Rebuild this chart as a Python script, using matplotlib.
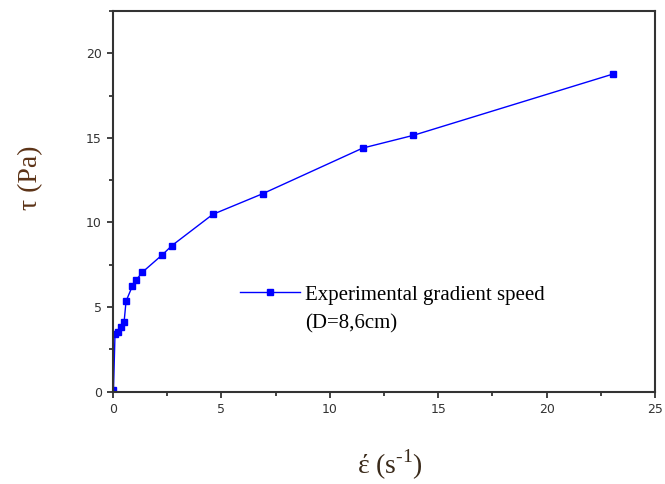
import matplotlib
matplotlib.use("Agg")
import matplotlib.pyplot as plt
from matplotlib.lines import Line2D
from matplotlib.ticker import MultipleLocator

# strain rate (s^-1) vs shear stress (Pa)
rate = [0.02, 0.09, 0.25, 0.35, 0.51, 0.60, 0.89, 1.06, 1.35, 2.28, 2.72,
        4.60, 6.90, 11.52, 13.85, 23.08]
stress = [0.1, 3.39, 3.54, 3.84, 4.13, 5.35, 6.24, 6.59, 7.06, 8.10, 8.64,
          10.48, 11.70, 14.40, 15.15, 18.78]
x_ticks = [0, 5, 10, 15, 20, 25]
y_ticks = [0, 5, 10, 15, 20]

plt.rcParams["mathtext.fontset"] = "custom"
plt.rcParams["mathtext.rm"] = "Liberation Serif"

fig = plt.figure(figsize=(6.65, 4.84), dpi=100, facecolor="white")
ax = fig.add_axes([0.170, 0.1907, 0.815, 0.7866])

ax.plot(rate, stress, color="#0000ff", lw=1.0, marker="s", ms=4.5,
        mec="#0000ff", mfc="#0000ff", label="Experimental gradient speed")

ax.set_xlim(0, 25)
ax.set_ylim(0, 22.5)
ax.set_xticks(x_ticks)
ax.set_yticks(y_ticks)
ax.xaxis.set_minor_locator(MultipleLocator(2.5))
ax.yaxis.set_minor_locator(MultipleLocator(2.5))
ax.tick_params(which="major", direction="out", length=4, width=1.2,
               color="#222222", labelsize=9, labelcolor="#333333", pad=4)
ax.tick_params(which="minor", direction="out", length=3, width=1.2, color="#222222")
for s in ax.spines.values():
    s.set_linewidth(1.5)
    s.set_color("#333333")

ax.set_ylabel("τ (Pa)", family="Liberation Serif", fontsize=20, color="#5c3317")
ax.yaxis.set_label_coords(-0.129, 0.561)
ax.set_xlabel("έ (s$^{\\text{-1}}$)", family="Liberation Serif", fontsize=20,
              color="#3a2a1a")
ax.xaxis.set_label_coords(0.511, -0.148)

extra = Line2D([], [], linestyle="none", label="(D=8,6cm)")
handles = [ax.get_lines()[0], extra]
leg = ax.legend(handles=handles, loc="upper left", bbox_to_anchor=(0.234, 0.280),
                frameon=False, prop={"family": "Liberation Serif", "size": 15},
                handlelength=2.9, handletextpad=0.24, borderpad=0,
                borderaxespad=0, labelspacing=0.45)

fig.savefig("out.png", dpi=100, facecolor="white")
